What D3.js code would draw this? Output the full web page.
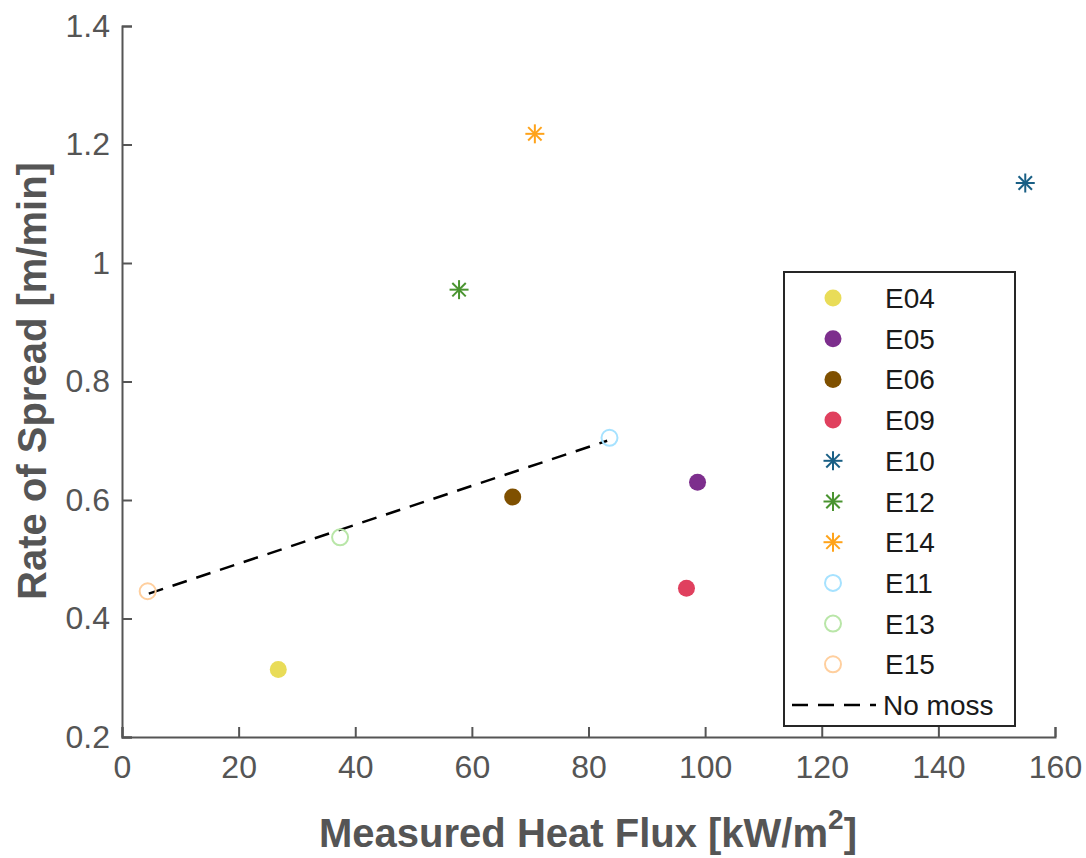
<!DOCTYPE html>
<html>
<head>
<meta charset="utf-8">
<script src="https://cdn.jsdelivr.net/npm/d3@7"></script>
<style>
  body { margin: 0; background: #fff; }
  svg { font-family: "Liberation Sans", Arial, sans-serif; }
</style>
</head>
<body>
<svg width="1086" height="858"></svg>
<script>
// data
var names   = ["E04", "E05", "E06", "E09", "E10", "E12", "E14", "E11", "E13", "E15"];
var heatFlux = [26.8, 98.7, 67.0, 96.8, 154.9, 57.8, 70.8, 83.6, 37.4, 4.4];
var rateOfSpread = [0.314, 0.630, 0.605, 0.451, 1.135, 0.955, 1.218, 0.705, 0.537, 0.446];
var markers = ["dot", "dot", "dot", "dot", "star", "star", "star", "ring", "ring", "ring"];
var colors = ["#e9dc58", "#7d2e8d", "#7f5000", "#e0405e", "#195f85", "#4a9430", "#ffa31a", "#a6e2ff", "#b9e6a8", "#ffcf9e"];
var noMossX = [4.6, 83.2];
var noMossY = [0.442, 0.700];
var xTicks = [0, 20, 40, 60, 80, 100, 120, 140, 160];
var yTicks = [0.2, 0.4, 0.6, 0.8, 1, 1.2, 1.4];

var axisColor = "#555";

var xScale = d3.scaleLinear().domain([0, 160]).range([122, 1055]);
var yScale = d3.scaleLinear().domain([0.2, 1.4]).range([737, 26]);

var svg = d3.select('svg');

// axes (matlab style: ticks pointing inward, no box)
svg.append('g').attr('class', 'x axis')
    .attr('transform', 'translate(0,737)')
    .call(d3.axisBottom(xScale).tickValues(xTicks).tickSizeInner(-10).tickSizeOuter(-10).tickPadding(18));

svg.append('g').attr('class', 'y axis')
    .attr('transform', 'translate(122,0)')
    .call(d3.axisLeft(yScale).tickValues(yTicks).tickSizeInner(-10).tickSizeOuter(-10).tickPadding(12)
        .tickFormat(function(d){ return d3.format("")(+d.toFixed(1)); }));

svg.selectAll('.axis path, .axis line')
    .attr('stroke', axisColor)
    .attr('stroke-width', 2);
svg.selectAll('.axis text')
    .attr('fill', axisColor)
    .style('font-size', '32px');

// axis labels
var xl = svg.append('text')
    .attr('x', 588)
    .attr('y', 847)
    .attr('text-anchor', 'middle')
    .attr('fill', axisColor)
    .style('font-size', '40px')
    .style('font-weight', 'bold');
xl.append('tspan').text('Measured Heat Flux [kW/m');
xl.append('tspan').attr('dy', -18).style('font-size', '28px').text('2');
xl.append('tspan').attr('dy', 18).text(']');

svg.append('text')
    .attr('transform', 'translate(46,381) rotate(-90)')
    .attr('text-anchor', 'middle')
    .attr('fill', axisColor)
    .style('font-size', '40px')
    .style('font-weight', 'bold')
    .text('Rate of Spread [m/min]');

// no moss fit
svg.append('path')
    .datum(d3.zip(noMossX, noMossY))
    .attr('fill', 'none')
    .attr('stroke', '#000')
    .attr('stroke-width', 2.5)
    .attr('stroke-dasharray', '15,10')
    .attr('d', d3.line().x(function(d){ return xScale(d[0]); }).y(function(d){ return yScale(d[1]); }));

function drawMarker(g, kind, color) {
    if (kind === "dot") {
        g.append('circle').attr('r', 8.5).attr('fill', color);
    } else if (kind === "ring") {
        g.append('circle').attr('r', 8).attr('fill', 'none')
            .attr('stroke', color).attr('stroke-width', 2);
    } else {
        var r = 9.5;
        [0, 45, 90, 135].forEach(function(a){
            var t = a * Math.PI / 180;
            g.append('line')
                .attr('x1', -r * Math.cos(t)).attr('y1', -r * Math.sin(t))
                .attr('x2', r * Math.cos(t)).attr('y2', r * Math.sin(t))
                .attr('stroke', color).attr('stroke-width', 2);
        });
    }
}

var points = svg.selectAll('g.pt')
    .data(names)
    .enter()
    .append('g')
    .attr('class', 'pt')
    .attr('transform', function(d, i){
        return 'translate(' + xScale(heatFlux[i]) + ',' + yScale(rateOfSpread[i]) + ')';
    });
points.each(function(d, i){ drawMarker(d3.select(this), markers[i], colors[i]); });

// legend
var legend = svg.append('g').attr('transform', 'translate(784,272)');
legend.append('rect')
    .attr('width', 231).attr('height', 454)
    .attr('fill', '#fff')
    .attr('stroke', '#262626')
    .attr('stroke-width', 2);

var rowY = d3.scaleLinear().domain([0, 10]).range([26, 433]);

names.forEach(function(n, i){
    var row = legend.append('g').attr('transform', 'translate(49,' + rowY(i) + ')');
    drawMarker(row, markers[i], colors[i]);
    legend.append('text')
        .attr('x', 101).attr('y', rowY(i) + 10)
        .attr('fill', '#1a1a1a')
        .style('font-size', '28px')
        .text(n);
});
legend.append('line')
    .attr('x1', 8).attr('x2', 92)
    .attr('y1', rowY(10)).attr('y2', rowY(10))
    .attr('stroke', '#000').attr('stroke-width', 2.5)
    .attr('stroke-dasharray', '16,10');
legend.append('text')
    .attr('x', 99).attr('y', rowY(10) + 10)
    .attr('fill', '#1a1a1a')
    .style('font-size', '28px')
    .text('No moss');
</script>
</body>
</html>
